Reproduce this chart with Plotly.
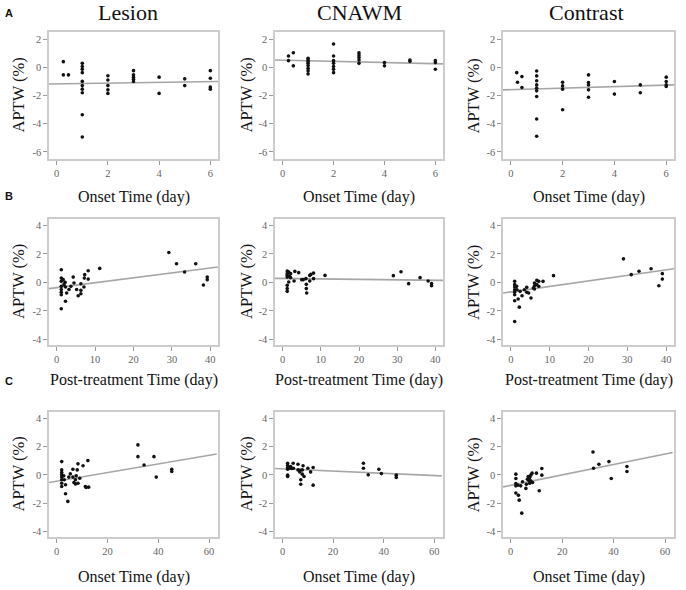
import plotly.graph_objects as go
from plotly.subplots import make_subplots

SERIF = "Liberation Serif, Times New Roman, serif"

# ---- data ----
# Row A: onset time (0-6 days)
a_lesion_x = [0.26, 0.26, 0.46, 1, 1, 1, 1, 1, 1, 1, 1, 1, 1,
              2, 2, 2, 2, 2, 3, 3, 3, 3, 3, 4, 4, 5, 5, 6, 6, 6, 6]
a_lesion_y = [0.4, -0.54, -0.54, 0.28, 0.05, -0.14, -0.38, -1.0, -1.3, -1.55, -1.8, -3.36, -4.94,
              -0.6, -0.9, -1.3, -1.6, -1.85, -0.24, -0.54, -0.7, -0.85, -1.0, -0.7, -1.85, -0.82, -1.3,
              -0.24, -0.78, -1.4, -1.55]
a_cnawm_x = [0.23, 0.42, 0.23, 0.42, 1, 1, 1, 1, 1, 1, 1, 1,
             2, 2, 2, 2, 2, 2, 2, 3, 3, 3, 3, 3, 4, 4, 5, 5, 6, 6, 6]
a_cnawm_y = [0.8, 1.03, 0.47, 0.1, 0.64, 0.52, 0.4, 0.28, 0.12, -0.07, -0.24, -0.47,
             1.65, 0.8, 0.47, 0.28, 0.05, -0.14, -0.38, 1.03, 0.87, 0.7, 0.52, 0.28, 0.33, 0.1,
             0.52, 0.42, 0.47, 0.33, -0.14]
a_contrast_x = [0.23, 0.26, 0.43, 0.43, 1, 1, 1, 1, 1, 1, 1, 1, 1,
                2, 2, 2, 2, 3, 3, 3, 3, 3, 4, 4, 5, 5, 6, 6, 6, 6]
a_contrast_y = [-0.38, -1.06, -0.66, -1.43, -0.26, -0.61, -0.96, -1.25, -1.48, -1.67, -2.07, -3.67, -4.89,
                -1.06, -1.32, -1.55, -3.01, -0.54, -1.08, -1.25, -1.6, -2.12, -1.01, -1.9, -1.25, -1.8,
                -0.7, -1.01, -1.25, -1.36]

# Row B: post-treatment time (0-40 days)
b_lesion_x = [1.2, 1.2, 1.2, 1.2, 1.2, 1.2, 1.2, 1.2, 1.7, 1.9, 2.2, 2.3, 2.3, 2.6, 3.2, 3.7,
              4.3, 4.5, 5.2, 5.6, 6.3, 6.3, 6.3, 7.1, 7.2, 7.3, 8.2, 8.2, 11.2,
              29.2, 31.2, 33.3, 36.2, 38.2, 39.2, 39.2]
b_lesion_y = [0.89, 0.3, 0.07, -0.28, -0.51, -0.7, -0.87, -1.85, 0.19, -0.16, 0.0, -0.33, -1.33,
              -0.75, -0.5, -0.28, 0.37, -0.05, -0.5, -0.94, -0.1, -0.56, -0.8, -0.33, 0.3, 0.54,
              0.23, 0.82, 0.98, 2.1, 1.31, 0.73, 1.31, -0.19, 0.37, 0.19]
b_cnawm_x = [1.2, 1.2, 1.2, 1.2, 1.2, 1.2, 1.2, 1.6, 1.8, 2.1, 2.1, 1.6, 3.2, 3.0, 4.2, 5.0, 5.4,
             6.1, 6.2, 6.2, 6.3, 7.1, 7.1, 7.4, 8.1, 8.1, 11.1, 29, 31, 33, 36, 38.1, 39, 39]
b_cnawm_y = [0.8, 0.61, 0.49, 0.37, -0.21, -0.44, -0.63, 0.73, 0.42, 0.61, 0.33, 0.02, 0.77, 0.09,
             0.68, 0.19, 0.19, 0.26, -0.14, -0.44, -0.75, 0.49, 0.09, 0.56, 0.65, 0.26, 0.49,
             0.47, 0.75, -0.09, 0.33, 0.09, -0.09, -0.23]
b_contrast_x = [1, 1, 1, 1, 1, 1, 1, 1, 1.5, 1.6, 1.9, 2.2, 2.4, 2.9, 3.5, 4.1, 4.1, 4.6, 5.2, 5.8,
                6.1, 6.1, 6.1, 6.7, 6.7, 7.2, 7.2, 8.3, 11, 29, 31, 33, 36.1, 38.1, 39, 39]
b_contrast_y = [0.07, -0.16, -0.33, -0.52, -0.7, -0.87, -1.29, -2.75, -0.28, -0.52, -1.17, -1.74,
                -0.63, -0.94, -0.52, -0.35, -0.7, -0.75, -1.1, -0.4, -0.05, -0.24, -0.47, 0.14, -0.16,
                0.07, -0.28, 0.07, 0.47, 1.65, 0.54, 0.78, 0.96, -0.24, 0.61, 0.23]

# Row C: onset time (0-60 days)
c_lesion_x = [2, 2, 2, 2, 2, 2, 2, 2, 2.8, 3.0, 3.5, 3.5, 4.4, 4.8, 5.4, 6.4, 6.4, 6.8, 7.4, 7.4,
              7.7, 8.1, 8.4, 8.4, 9.1, 10.4, 11.3, 11.6, 12.3, 12.6, 32, 32, 34.4, 38.3, 39.2, 45.3, 45.3]
c_lesion_y = [0.94, 0.35, 0.16, 0.0, -0.16, -0.35, -0.59, -0.82, -0.07, -0.35, -0.7, -1.34, -1.88,
              -0.16, 0.07, 0.4, -0.16, -0.54, -0.35, -0.64, -0.07, 0.35, 0.78, -0.59, -0.24, 0.64,
              -0.82, -0.9, 1.01, -0.87, 2.12, 1.29, 0.7, 1.29, -0.16, 0.4, 0.24]
c_cnawm_x = [2, 2, 2, 2, 2, 2, 2.7, 3.2, 3.5, 4.2, 4.3, 6.1, 6.1, 6.8, 6.9, 7.2, 7.2, 7.8, 7.8,
             8.1, 8.5, 10, 11.1, 12.1, 12.1, 32, 32, 33.9, 38.1, 39.1, 45, 45]
c_cnawm_y = [0.82, 0.68, 0.52, 0.4, -0.02, -0.12, 0.47, 0.59, 0.45, 0.82, 0.47, 0.75, 0.35, 0.21,
             0.33, -0.35, -0.66, 0.35, 0.05, 0.64, -0.12, 0.47, 0.21, 0.52, -0.73, 0.82, 0.47, 0.0,
             0.4, 0.09, -0.02, -0.19]
c_contrast_x = [2, 2, 2, 2, 2, 2.8, 3.0, 3.3, 3.9, 4.3, 4.6, 5.9, 6.1, 6.5, 6.8, 7.1, 7.4, 7.4,
                7.8, 7.8, 8.3, 8.5, 10, 11.1, 12.1, 12.1, 32, 32.2, 34.3, 38.2, 39.1, 45.2, 45.2]
c_contrast_y = [0.05, -0.26, -0.61, -0.78, -1.29, -0.73, -1.45, -1.79, -0.78, -2.71, -0.49, -0.96,
                -0.66, -0.31, -0.12, -0.42, -0.19, -0.59, -0.02, -0.42, 0.12, -0.54, 0.12, -1.13,
                0.45, -0.02, 1.62, 0.47, 0.75, 0.94, -0.26, 0.59, 0.24]

# fit line end points
a_fit_x = [-0.3, 6.3]
a_lesion_fit = [-1.18, -1.01]
a_cnawm_fit = [0.52, 0.24]
a_contrast_fit = [-1.6, -1.25]
b_fit_x = [-2, 42]
b_lesion_fit = [-0.44, 1.08]
b_cnawm_fit = [0.28, 0.14]
b_contrast_fit = [-0.75, 0.96]
c_fit_x = [-3, 63]
c_lesion_fit = [-0.54, 1.48]
c_cnawm_fit = [0.45, -0.07]
c_contrast_fit = [-0.85, 1.58]

columns = ["Lesion", "CNAWM", "Contrast"]
row_letters = ["A", "B", "C"]
row_xtitles = ["Onset Time (day)", "Post-treatment Time (day)", "Onset Time (day)"]
a_yticks = [2, 0, -2, -4, -6]
bc_yticks = [4, 2, 0, -2, -4]
a_xticks = [0, 2, 4, 6]
b_xticks = [0, 10, 20, 30, 40]
c_xticks = [0, 20, 40, 60]

rows = [
    dict(series=[(a_lesion_x, a_lesion_y, a_lesion_fit), (a_cnawm_x, a_cnawm_y, a_cnawm_fit),
                 (a_contrast_x, a_contrast_y, a_contrast_fit)],
         fit_x=a_fit_x, xr=[-0.3, 6.3], yr=[-6.5, 2.5], xt=a_xticks, yt=a_yticks),
    dict(series=[(b_lesion_x, b_lesion_y, b_lesion_fit), (b_cnawm_x, b_cnawm_y, b_cnawm_fit),
                 (b_contrast_x, b_contrast_y, b_contrast_fit)],
         fit_x=b_fit_x, xr=[-2, 42], yr=[-4.4, 4.45], xt=b_xticks, yt=bc_yticks),
    dict(series=[(c_lesion_x, c_lesion_y, c_lesion_fit), (c_cnawm_x, c_cnawm_y, c_cnawm_fit),
                 (c_contrast_x, c_contrast_y, c_contrast_fit)],
         fit_x=c_fit_x, xr=[-3, 63.5], yr=[-4.4, 4.45], xt=c_xticks, yt=bc_yticks),
]

W, H = 686, 590
# panel boxes in pixels
col_px = [(49, 218), (275, 443), (503, 674)]
row_px = [(32, 159), (219, 345), (412, 537)]
title_px = [128, 360, 586]
ytitle_px = [18, 246, 473]
xtitle_py = [197, 380, 577]
letter_py = [13, 196, 381]


def label(x_px, y_px, text, size, family=SERIF, angle=0):
    fig.add_annotation(x=x_px / W, y=1 - y_px / H, xref="paper", yref="paper",
                       xanchor="center", yanchor="middle", text=text, textangle=angle,
                       showarrow=False, font=dict(family=family, size=size, color="#111111"))


fig = make_subplots(rows=3, cols=3)

for r, row in enumerate(rows):
    for c, (xs, ys, fit) in enumerate(row["series"]):
        fig.add_trace(go.Scatter(x=row["fit_x"], y=fit, mode="lines",
                                 line=dict(color="#a6a6a6", width=1.6), hoverinfo="skip"),
                      row=r + 1, col=c + 1)
        fig.add_trace(go.Scatter(x=xs, y=ys, mode="markers",
                                 marker=dict(color="#111111", size=3.6)),
                      row=r + 1, col=c + 1)
        x0, x1 = col_px[c]
        y0, y1 = row_px[r]
        fig.update_xaxes(domain=[x0 / W, x1 / W], range=row["xr"], tickvals=row["xt"],
                         ticktext=[str(v) for v in row["xt"]], row=r + 1, col=c + 1)
        fig.update_yaxes(domain=[1 - y1 / H, 1 - y0 / H], range=row["yr"], tickvals=row["yt"],
                         ticktext=[str(v) for v in row["yt"]], row=r + 1, col=c + 1)
        label((x0 + x1) / 2, xtitle_py[r], row_xtitles[r], 16)
        label(ytitle_px[c], (y0 + y1) / 2, "APTW (%)", 16.5, angle=-90)
    label(9, letter_py[r], "<b>" + row_letters[r] + "</b>", 11,
          family="Liberation Sans, Arial, sans-serif")

for c, name in enumerate(columns):
    label(title_px[c], 13, name, 22)

axis_style = dict(showgrid=False, zeroline=False, showline=True, mirror=True,
                  linecolor="#cccccc", linewidth=1.5, ticks="outside", ticklen=4,
                  tickcolor="#999999", tickwidth=1,
                  tickfont=dict(family=SERIF, size=10.5, color="#666666"))
fig.update_xaxes(**axis_style)
fig.update_yaxes(**axis_style)

fig.update_layout(
    width=W, height=H,
    margin=dict(l=0, r=0, t=0, b=0),
    showlegend=False,
    plot_bgcolor="white",
    paper_bgcolor="white",
)

# drop the browser's default body margin so the figure sits at the page corner
fig.write_html("out.html", config={"displayModeBar": False},
               post_script="document.body.style.margin='0';")
